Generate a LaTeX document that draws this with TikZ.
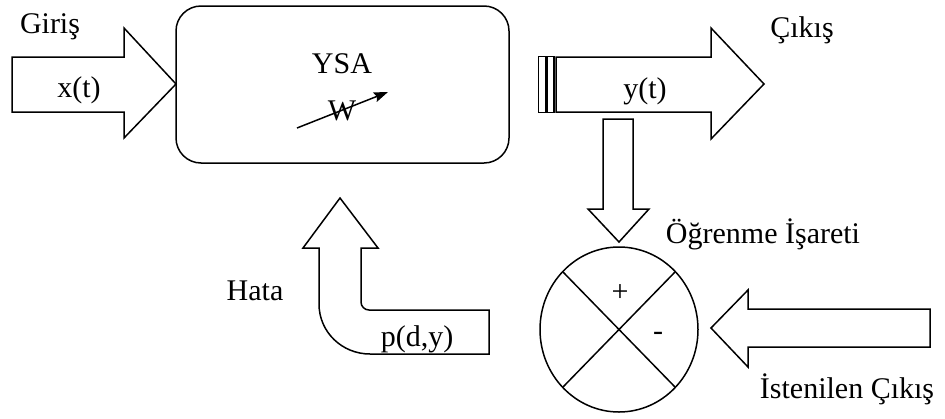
\documentclass[tikz,border=0pt]{standalone}
\usepackage{fontspec}
\setmainfont{Liberation Serif}
\usetikzlibrary{arrows.meta}
\begin{document}
\begin{tikzpicture}[x=1pt,y=-1pt,
  shapeline/.style={draw=black,line width=1.5pt,line join=miter},
  lbl/.style={font=\fontsize{30}{36}\selectfont,inner sep=0pt,anchor=base},
  ysabox/.style={draw=black,line width=1.5pt,rounded corners=25pt,minimum width=333pt,minimum height=157pt,inner sep=0pt},
  sumcirc/.style={draw=black,line width=1.5pt,ellipse,minimum width=158pt,minimum height=164pt,inner sep=0pt}]
\useasboundingbox (0,0) rectangle (945,418);
% input arrow
\draw[shapeline] (12,57) -- (124,57) -- (124,28) -- (176,84) -- (124,138) -- (124,112) -- (12,112) -- cycle;
% YSA box
\node[ysabox] (ysa) at (342.5,84.5) {};
% output arrow
\draw[shapeline] (538.5,56.5) rectangle (545.5,112.5);
\draw[shapeline] (547,56.5) rectangle (554,112.5);
\draw[shapeline] (556,57) -- (711,57) -- (711,28) -- (764,84) -- (711,139) -- (711,112) -- (556,112) -- cycle;
% down arrow
\draw[shapeline] (603,119) -- (633,119) -- (633,209) -- (649,209) -- (619,242) -- (588,209) -- (603,209) -- cycle;
% summing circle
\draw[line width=1.5pt] (619,329.5) ellipse [x radius=79, y radius=82.5];
\node[inner sep=0pt,minimum size=1pt] (c) at (619,329.5) {};
\coordinate (c1) at (563,272);
\coordinate (c2) at (675,387);
\coordinate (c3) at (675,272);
\coordinate (c4) at (563,387);
\draw[line width=1.5pt] (c1) -- (c2);
\draw[line width=1.5pt] (c3) -- (c4);
% desired output arrow
\draw[shapeline] (930,309) -- (748,309) -- (748,290) -- (711,328) -- (748,367) -- (748,347) -- (930,347) -- cycle;
% error arrow
\draw[shapeline] (340,198) -- (378,248) -- (361,248) -- (361,302)
  .. controls (361,306.4) and (364.6,310) .. (369,310) -- (489,310) -- (489,354) -- (370,354)
  .. controls (342,354) and (319,332) .. (319,304) -- (319,248) -- (303,248) -- cycle;
% weight arrow
\coordinate (w1) at (297,128);
\coordinate (w2) at (388,92);
\draw[line width=1.5pt,-{Stealth[length=14pt,width=10pt,inset=2pt]}] (w1) -- (w2);
% labels
\node[lbl] (giris) at (50,33) {Giriş};
\node[lbl] (xt) at (79,97) {x(t)};
\node[lbl] (ysat) at (342,73) {YSA};
\node[lbl] (w) at (342,120) {W};
\node[lbl] (yt) at (645,98) {y(t)};
\node[lbl] (cikis) at (802,37) {Çıkış};
\node[lbl] (ogr) at (763,243) {Öğrenme İşareti};
\node[lbl] (plus) at (620,301) {+};
\node[lbl] (minus) at (658,340) {-};
\node[lbl] (hata) at (255,300) {Hata};
\node[lbl] (pdy) at (417,346) {p(d,y)};
\node[lbl] (ist) at (847,398) {İstenilen Çıkış};
\end{tikzpicture}
\end{document}
